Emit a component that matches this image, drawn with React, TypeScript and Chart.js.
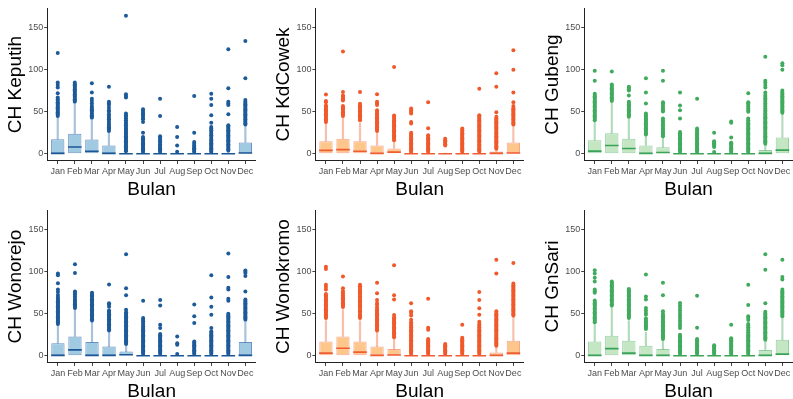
import React, { useEffect, useRef } from 'react';
import { Chart, registerables } from 'chart.js';

Chart.register(...registerables);

const MONTHS = ['Jan', 'Feb', 'Mar', 'Apr', 'May', 'Jun', 'Jul', 'Aug', 'Sep', 'Oct', 'Nov', 'Dec'];
const Y_TICKS = [0, 50, 100, 150];
const Y_MIN = -8.25;
const Y_MAX = 173.25;
const X_TITLE = 'Bulan';

// ---------- CH Keputih ----------
const KEPUTIH_Q1 = [0, 0, 0, 0, 0, 0, 0, 0, 0, 0, 0, 0];
const KEPUTIH_MED = [0.5, 8, 3, 0.5, 0, 0, 0, 0, 0, 0, 0, 1];
const KEPUTIH_Q3 = [17.4, 24, 17, 10, 1, 0.5, 0.3, 0, 0.3, 0.5, 1, 13.5];
const KEPUTIH_HI = [43, 59, 40, 25, 2.5, 1.2, 0.8, 0, 0.8, 1.2, 2.5, 33];
const KEPUTIH_OUT = [
  [45, 46.5, 48, 49.5, 51, 52.5, 54, 55.5, 57, 58.5, 60, 61.5, 63, 65, 67, 72, 79, 82, 85, 120],
  [62, 63.5, 65, 66.5, 68, 69.5, 71, 72.5, 74, 75.5, 77, 78.5, 80, 81.5, 83, 85],
  [43, 44.5, 46, 48, 50, 51.5, 53, 55, 57, 60, 63, 65.5, 73, 84],
  [27, 28.5, 30, 31.5, 33, 35, 37, 39, 41, 43, 45, 47, 50, 52, 55, 58, 60, 62, 80],
  [3, 4.5, 6, 7.5, 9, 10.5, 12, 13.5, 15, 16.5, 18, 19.5, 21, 22.5, 24, 25.5, 27, 28.5, 30, 32, 34, 36, 38, 40, 42, 44, 46, 48, 67, 69, 71, 164.5],
  [2, 3.5, 5, 6.5, 8, 9.5, 11, 12.5, 14, 15.5, 17, 18.5, 20, 25, 38, 41, 43, 45, 47, 49, 51, 53],
  [2, 3.5, 5, 6.5, 8, 9.5, 11, 13, 15, 17, 19, 21, 45, 65.5],
  [2.5, 10, 20, 32],
  [2, 3.5, 5, 6.5, 8, 10, 12, 14, 25, 69],
  [2, 3.5, 5, 6.5, 8, 9.5, 11, 12.5, 14, 16, 18, 20, 22, 24, 26, 28, 30, 32, 37, 46, 58, 65.5, 71.5],
  [4, 5.5, 7, 8.5, 10, 11.5, 13, 14.5, 16, 17.5, 19, 20.5, 22, 23.5, 25, 26.5, 28, 29.5, 31, 32.5, 34, 47, 58, 60, 62, 78, 124.5],
  [35, 36.5, 38, 39.5, 41, 42.5, 44, 45.5, 47, 48.5, 50, 51.5, 53, 54.5, 56, 57.5, 59, 60.5, 62, 64, 90, 134.5],
];

// ---------- CH KdCowek ----------
const KDCOWEK_Q1 = [0, 0, 0, 0, 0, 0, 0, 0, 0, 0, 0, 0];
const KDCOWEK_MED = [4, 5, 3, 0.5, 2, 0, 0, 0, 0, 0, 0.5, 1];
const KDCOWEK_Q3 = [15, 18, 15, 10, 6.4, 0.5, 0.5, 0.3, 0.5, 0.8, 2.8, 13.5];
const KDCOWEK_HI = [37, 43, 37, 25, 15, 1.2, 1.2, 0.8, 1.2, 2, 5, 33];
const KDCOWEK_OUT = [
  [38, 39.5, 41, 42.5, 44, 45.5, 47, 48.5, 50, 51.5, 53, 54.5, 56, 57.5, 61.5, 63, 70.5],
  [45, 46.5, 48, 49.5, 51, 52.5, 54, 55.5, 57, 63.5, 65, 66.5, 68, 69.5, 73.5, 122],
  [40, 41.5, 43, 44.5, 46, 47.5, 49, 50.5, 52, 53.5, 55, 56.5, 58, 59.5, 73.5],
  [27, 28.5, 30, 31.5, 33, 34.5, 36, 37.5, 39, 40.5, 42, 43.5, 45, 46.5, 48, 50, 52, 58, 60, 62, 71],
  [16, 17.5, 19, 20.5, 22, 23.5, 25, 26.5, 28, 29.5, 31, 32.5, 34, 35.5, 37, 38.5, 40, 42, 44, 45.5, 103.5],
  [2, 3.5, 5, 6.5, 8, 9.5, 11, 12.5, 14, 15.5, 17, 18.5, 20, 21.5, 23, 25, 36, 38, 48, 50, 52, 54],
  [2, 3.5, 5, 6.5, 8, 9.5, 11, 12.5, 14, 15.5, 17, 18.5, 20, 22, 30.5, 61.5],
  [10, 11.5, 13, 14.5, 16, 18],
  [2, 3.5, 5, 6.5, 8, 9.5, 11, 12.5, 14, 15.5, 17, 18.5, 20, 21.5, 23, 24.5, 26, 28, 30],
  [2.5, 4, 5.5, 7, 8.5, 10, 11.5, 13, 14.5, 16, 17.5, 19, 20.5, 22, 23.5, 25, 26.5, 28, 29.5, 31, 32.5, 34, 35.5, 37, 38.5, 40, 41.5, 43, 44.5, 46, 77.5],
  [6, 7.5, 9, 10.5, 12, 13.5, 15, 16.5, 18, 19.5, 21, 22.5, 24, 25.5, 27, 28.5, 30, 31.5, 33, 34.5, 36, 37.5, 39, 40.5, 42, 44, 49.5, 80, 96],
  [35, 36.5, 38, 39.5, 41, 42.5, 44, 45.5, 47, 48.5, 50, 51.5, 53, 54.5, 57, 61.5, 73, 100, 123.5],
];

// ---------- CH Gubeng ----------
const GUBENG_Q1 = [0, 0, 0, 0, 0, 0, 0, 0, 0, 0, 0, 0];
const GUBENG_MED = [3.2, 9.9, 6.3, 0.5, 1.5, 0, 0, 0, 0, 0, 0.5, 4.3];
const GUBENG_Q3 = [16.2, 24.5, 18, 10, 7.9, 0.5, 0.5, 0.3, 0.5, 0.5, 4.4, 19.5];
const GUBENG_HI = [38, 60, 42, 22, 19, 1.2, 1.2, 0.8, 1.2, 1.2, 10, 47];
const GUBENG_OUT = [
  [40, 41.5, 43, 44.5, 46, 47.5, 49, 50.5, 52, 53.5, 55, 56.5, 58, 59.5, 61, 62.5, 64, 65.5, 67, 68.5, 70, 71.5, 87, 99],
  [63, 64.5, 66, 67.5, 69, 70.5, 72, 73.5, 75, 76.5, 78, 79.5, 81, 82.5, 98],
  [44, 45.5, 47, 48.5, 50, 51.5, 53, 54.5, 56, 57.5, 59, 60.5, 62, 69.5, 75.5, 77, 78.5, 80],
  [23, 24.5, 26, 27.5, 29, 30.5, 32, 33.5, 35, 36.5, 38, 39.5, 41, 42.5, 44, 46, 48, 60, 73, 90],
  [21, 22.5, 24, 25.5, 27, 28.5, 30, 32, 34, 36, 38, 40, 42, 50.5, 52, 54, 56, 58, 60, 61.5, 87, 99],
  [2, 3.5, 5, 6.5, 8, 9.5, 11, 12.5, 14, 15.5, 17, 18.5, 20, 21.5, 23, 24.5, 26, 42, 52, 57.5, 73],
  [2, 3.5, 5, 6.5, 8, 9.5, 11, 12.5, 14, 15.5, 17, 18.5, 20, 21.5, 23, 24.5, 26, 28, 30, 65.5],
  [2, 8, 9.5, 11, 12.5, 14, 15, 25],
  [2, 3.5, 5, 6.5, 8, 9.5, 11, 12.5, 13, 19.5, 37, 38.5],
  [2, 3.5, 5, 6.5, 8, 9.5, 11, 12.5, 14, 15.5, 17, 18.5, 20, 21.5, 23, 24.5, 26, 27.5, 29, 30.5, 32, 33.5, 35, 36.5, 38, 40, 42, 50, 52, 54, 56, 58, 60, 61.5, 72],
  [12, 13.5, 15, 16.5, 18, 19.5, 21, 22.5, 24, 25.5, 27, 28.5, 30, 31.5, 33, 34.5, 36, 37.5, 39, 40.5, 42, 43.5, 45, 46.5, 48, 50, 52, 54, 56, 58, 60, 62, 64, 66, 68, 70, 73, 79, 82, 85, 87, 115.5],
  [49, 50.5, 52, 53.5, 55, 56.5, 58, 59.5, 61, 62.5, 64, 65.5, 67, 68.5, 70, 71.5, 73, 75.5, 100, 105.5, 108],
];

// ---------- CH Wonorejo ----------
const WONOREJO_Q1 = [0, 0, 0, 0, 0, 0, 0, 0, 0, 0, 0, 0];
const WONOREJO_MED = [0.5, 7, 0.5, 0.5, 1.2, 0, 0, 0, 0, 0, 0, 0.5];
const WONOREJO_Q3 = [15, 23, 16.3, 11, 5, 0.5, 0.5, 0.3, 0.5, 0.5, 0.8, 16.3];
const WONOREJO_HI = [36, 55, 40, 28, 12, 1.2, 1.2, 0.8, 1.2, 1.2, 2, 40];
const WONOREJO_OUT = [
  [38, 39.5, 41, 42.5, 44, 45.5, 47, 48.5, 50, 51.5, 53, 54.5, 56, 57.5, 59, 60.5, 62, 63.5, 65, 66.5, 68, 70, 72.5, 76, 79, 86.5, 96, 98],
  [57, 58.5, 60, 61.5, 63, 64.5, 66, 68, 70.5, 73, 75, 76.5, 98.5, 109],
  [42, 43.5, 45, 46.5, 48, 49.5, 51, 52.5, 54, 55.5, 57, 58.5, 60, 61.5, 63, 64.5, 66, 67.5, 69, 70.5, 72, 73.5, 75],
  [30, 31.5, 33, 34.5, 36, 37.5, 39, 40.5, 42, 43.5, 45, 46.5, 48, 49.5, 51, 52.5, 54, 58.5, 61, 62.5, 85],
  [14, 15.5, 17, 18.5, 20, 21.5, 23, 24.5, 26, 27.5, 29, 30.5, 32, 33.5, 35, 36.5, 38, 39.5, 41, 42.5, 44, 45.5, 47, 48.5, 50, 52, 55, 72, 80.5, 121],
  [2, 3.5, 5, 6.5, 8, 9.5, 11, 12.5, 14, 15.5, 17, 18.5, 20, 21.5, 23, 24.5, 26, 27.5, 29, 30.5, 32, 33.5, 35, 37, 39, 41, 43, 45, 65.5],
  [2, 3.5, 5, 6.5, 8, 9.5, 11, 12.5, 14, 15.5, 17, 18.5, 20, 21.5, 23, 24.5, 26, 33, 37, 60, 66.5],
  [2, 13, 15, 23],
  [2, 3.5, 5, 6.5, 8, 9.5, 11, 12.5, 14, 15.5, 17, 39, 47, 61],
  [2, 3.5, 5, 6.5, 8, 9.5, 11, 12.5, 14, 15.5, 17, 18.5, 20, 21.5, 23, 24.5, 26, 27.5, 29, 33, 49, 58.5, 69.5, 96],
  [2, 3.5, 5, 6.5, 8, 9.5, 11, 12.5, 14, 15.5, 17, 18.5, 20, 21.5, 23, 24.5, 26, 27.5, 29, 30.5, 32, 33.5, 35, 36.5, 38, 39.5, 41, 42.5, 44, 45.5, 47, 48.5, 50, 65.5, 68, 79, 81, 94, 122],
  [43, 44.5, 46, 47.5, 49, 50.5, 52, 53.5, 55, 56.5, 58, 59.5, 61, 62.5, 64, 65.5, 67, 76.5, 95, 98.5, 100, 101.5],
];

// ---------- CH Wonokromo ----------
const WONOKROMO_Q1 = [0, 0, 0, 0, 0, 0, 0, 0, 0, 0, 0, 0];
const WONOKROMO_MED = [3.2, 9, 4.4, 0.5, 1, 0, 0, 0, 0, 0, 0.5, 3.2];
const WONOKROMO_Q3 = [17, 23, 17, 11, 8, 0.5, 0.5, 0.3, 0.5, 0.5, 4, 18];
const WONOKROMO_HI = [42, 55, 42, 28, 20, 1.2, 1.2, 0.8, 1.2, 1.2, 10, 46];
const WONOKROMO_OUT = [
  [45, 46.5, 48, 49.5, 51, 52.5, 54, 55.5, 57, 58.5, 60, 61.5, 63, 64.5, 66, 67.5, 69, 70.5, 72, 73.5, 79, 82, 84.5, 103.5, 106],
  [58, 59.5, 61, 62.5, 64, 65.5, 67, 68.5, 70, 72, 74.5, 77, 80.5, 94.5],
  [45, 47, 49, 51, 53, 55, 57, 59, 61, 63, 65, 67, 69, 71, 73, 75, 77, 79, 81, 83, 84.5],
  [30, 31.5, 33, 34.5, 36, 37.5, 39, 40.5, 42, 43.5, 45, 46.5, 48, 49.5, 51, 52.5, 54, 56, 58, 61, 63, 66.5, 74.5, 87],
  [22, 23.5, 25, 26.5, 28, 29.5, 31, 32.5, 34, 35.5, 37, 38.5, 40, 41.5, 43, 44.5, 46, 48.5, 67, 72, 108],
  [2, 3.5, 5, 6.5, 8, 9.5, 11, 12.5, 14, 15.5, 17, 18.5, 20, 21.5, 23, 24.5, 26, 27.5, 29, 30.5, 32, 34, 36, 38, 40, 43, 48, 51, 53, 62.5],
  [2, 3.5, 5, 6.5, 8, 9.5, 11, 12.5, 14, 15.5, 17, 18.5, 20, 31, 33.5, 68],
  [2, 3.5, 5, 6.5, 8, 9.5, 11, 12.5, 14],
  [2, 3.5, 5, 6.5, 8, 9.5, 11, 12.5, 14, 15.5, 17, 18.5, 20, 21.5, 37],
  [2, 3.5, 5, 6.5, 8, 9.5, 11, 12.5, 14, 15.5, 17, 18.5, 20, 21.5, 23, 24.5, 26, 27.5, 29, 30.5, 32, 34, 36, 38, 40.5, 49, 56.5, 66.5, 76],
  [12, 13.5, 15, 16.5, 18, 19.5, 21, 22.5, 24, 25.5, 27, 28.5, 30, 31.5, 33, 34.5, 36, 37.5, 39, 40.5, 42, 43.5, 45, 46.5, 48, 49.5, 51, 53, 98, 114.5],
  [48, 49.5, 51, 52.5, 54, 55.5, 57, 58.5, 60, 61.5, 63, 64.5, 66, 67.5, 69, 70.5, 72, 73.5, 75, 76.5, 78, 79.5, 81, 82.5, 84, 86, 110.5],
];

// ---------- CH GnSari ----------
const GNSARI_Q1 = [0, 0, 0, 0, 0, 0, 0, 0, 0, 0, 0, 0];
const GNSARI_MED = [0.5, 8.5, 3.2, 0.5, 0.5, 0, 0, 0, 0, 0, 0.5, 2];
const GNSARI_Q3 = [17, 24, 18, 12, 8, 0.5, 0.5, 0.3, 0.5, 0.5, 7, 19];
const GNSARI_HI = [38, 58, 42, 28, 18, 1.2, 1.2, 0.8, 1.2, 1.2, 17, 45];
const GNSARI_OUT = [
  [40, 41.5, 43, 44.5, 46, 47.5, 49, 50.5, 52, 53.5, 55, 56.5, 58, 59.5, 61, 62.5, 64, 66, 75, 77, 79, 88.5, 93, 98, 102],
  [60, 61.5, 63, 64.5, 66, 67.5, 69, 70.5, 72, 73.5, 75, 76.5, 78, 79.5, 81, 82.5, 84, 85.5, 87, 88.5],
  [45, 46.5, 48, 49.5, 51, 52.5, 54, 55.5, 57, 58.5, 60, 61.5, 63, 64.5, 66, 67.5, 69, 70.5, 72, 73.5, 75, 76.5, 78, 79.5],
  [32, 33.5, 35, 36.5, 38, 39.5, 41, 42.5, 44.5, 49, 51, 54, 57, 67, 70.5, 97],
  [20, 21.5, 23, 24.5, 26, 27.5, 29, 30.5, 32, 33.5, 35, 36.5, 38, 39.5, 41, 42.5, 44, 45.5, 47, 48.5, 50, 53, 72, 87],
  [2, 3.5, 5, 6.5, 8, 9.5, 11, 12.5, 14, 15.5, 17, 18.5, 20, 21.5, 23, 25, 33, 36, 39, 42, 45, 48, 51, 54, 57, 60, 63],
  [2, 3.5, 5, 6.5, 8, 9.5, 11, 12.5, 14, 15.5, 17, 18.5, 20, 33.5, 71.5],
  [2, 3.5, 5, 6.5, 8, 9.5, 11, 12.5],
  [2, 3.5, 5, 6.5, 8, 9.5, 11, 12.5, 14, 15.5, 17, 18.5, 20, 21, 37],
  [2, 3.5, 5, 6.5, 8, 9.5, 11, 12.5, 14, 15.5, 17, 18.5, 20, 21.5, 23, 24.5, 26, 28, 30, 32, 34, 36, 38, 42.5, 45, 47, 60.5, 84.5],
  [19, 20.5, 22, 23.5, 25, 26.5, 28, 29.5, 31, 32.5, 34, 35.5, 37, 38.5, 40, 41.5, 43, 44.5, 46, 47.5, 49, 50.5, 52.5, 62.5, 102.5, 121],
  [47, 48.5, 50, 51.5, 53, 54.5, 56, 57.5, 59, 60.5, 62, 63.5, 65, 66.5, 68, 69.5, 71, 72.5, 74, 75.5, 77, 79, 91, 94, 114.5],
];

const FONT = "'Liberation Sans', Arial, Helvetica, sans-serif";

type Palette = { fill: string; border: string; whisker: string; median: string; point: string };

const BLUE: Palette = {
  fill: '#9fcae2',
  border: 'rgba(40,100,165,0.7)',
  whisker: 'rgba(40,100,165,0.4)',
  median: '#1b5796',
  point: '#1d5a99',
};
const ORANGE: Palette = {
  fill: '#fdc68b',
  border: 'rgba(240,95,50,0.55)',
  whisker: 'rgba(240,95,50,0.4)',
  median: '#ef5d33',
  point: '#f0592b',
};
const GREEN: Palette = {
  fill: '#c4e6c2',
  border: 'rgba(60,165,90,0.55)',
  whisker: 'rgba(60,165,90,0.4)',
  median: '#3aa357',
  point: '#41ab5d',
};

type PanelProps = {
  title: string;
  q1: number[];
  med: number[];
  q3: number[];
  hi: number[];
  out: number[][];
  pal: Palette;
  left: number;
  top: number;
  padLeft: number;
  padTop: number;
};

const CANVAS_W = 264;
const CANVAS_H = 200;

function Panel({ title, q1, med, q3, hi, out, pal, left, top, padLeft, padTop }: PanelProps) {
  const ref = useRef<HTMLCanvasElement | null>(null);

  useEffect(() => {
    if (!ref.current) return;
    const boxData = MONTHS.map((_, i) => ({ x: i, y: [q1[i], q3[i]] }));
    const whiskerData = MONTHS.map((_, i) => ({ x: i, y: [q3[i], hi[i]] }));
    const medData = MONTHS.map((_, i) => ({ x: i, y: med[i] }));
    const outData = out.flatMap((vals, i) => vals.map((v) => ({ x: i, y: v })));

    const chart = new Chart(ref.current, {
      type: 'bar',
      data: {
        datasets: [
          {
            type: 'scatter',
            data: medData,
            pointStyle: 'line',
            pointRadius: 6.8,
            pointBorderColor: pal.median,
            pointBorderWidth: 1.6,
            pointBackgroundColor: pal.median,
          } as any,
          {
            type: 'scatter',
            data: outData,
            pointStyle: 'circle',
            pointRadius: 2,
            pointBorderWidth: 0,
            pointBackgroundColor: pal.point,
          } as any,
          {
            type: 'bar',
            data: boxData,
            backgroundColor: pal.fill,
            borderColor: pal.border,
            borderWidth: 1,
            borderSkipped: false,
            grouped: false,
            barPercentage: 0.78,
            categoryPercentage: 1,
          } as any,
          {
            type: 'bar',
            data: whiskerData,
            backgroundColor: pal.whisker,
            borderWidth: 0,
            grouped: false,
            barThickness: 1.5,
          } as any,
        ],
      },
      options: {
        responsive: false,
        maintainAspectRatio: false,
        devicePixelRatio: 1,
        animation: false,
        events: [],
        layout: { padding: { left: padLeft, top: padTop, right: 3.5, bottom: 0 } },
        plugins: { legend: { display: false }, tooltip: { enabled: false } },
        scales: {
          x: {
            type: 'linear',
            min: -0.6,
            max: 11.6,
            offset: false,
            afterBuildTicks: (s: any) => {
              s.ticks = MONTHS.map((_, i) => ({ value: i }));
            },
            afterFit: (s: any) => {
              s.height = 39.3;
            },
            ticks: {
              autoSkip: false,
              maxRotation: 0,
              minRotation: 0,
              padding: 2,
              color: '#4d4d4d',
              font: { family: FONT, size: 9 },
              callback: (v: any) => MONTHS[Math.round(Number(v))],
            },
            grid: {
              display: true,
              drawOnChartArea: false,
              drawTicks: true,
              tickLength: 3.3,
              color: '#444',
              offset: false,
            },
            border: { display: true, color: '#222', width: 1 },
            title: {
              display: true,
              text: X_TITLE,
              color: '#000',
              font: { family: FONT, size: 19, lineHeight: 1 },
              padding: { top: 0, bottom: 0.5 },
            },
          },
          y: {
            type: 'linear',
            min: Y_MIN,
            max: Y_MAX,
            afterBuildTicks: (s: any) => {
              s.ticks = Y_TICKS.map((v) => ({ value: v }));
            },
            afterFit: (s: any) => {
              s.width = 47.5;
            },
            ticks: {
              padding: 1,
              color: '#4d4d4d',
              font: { family: FONT, size: 9 },
            },
            grid: {
              display: true,
              drawOnChartArea: false,
              drawTicks: true,
              tickLength: 3.3,
              color: '#444',
            },
            border: { display: true, color: '#222', width: 1 },
            title: {
              display: true,
              text: title,
              color: '#000',
              font: { family: FONT, size: 19, lineHeight: 1 },
              padding: { top: 6.5, bottom: 0 },
            },
          },
        },
      } as any,
    });
    return () => chart.destroy();
  }, [title, q1, med, q3, hi, out, pal, padLeft, padTop]);

  return (
    <div style={{ position: 'absolute', left, top, width: CANVAS_W, height: CANVAS_H }}>
      <canvas ref={ref} width={CANVAS_W} height={CANVAS_H} style={{ display: 'block', width: CANVAS_W, height: CANVAS_H }} />
    </div>
  );
}

export default function App() {
  return (
    <div
      style={{
        position: 'fixed',
        left: 0,
        top: 0,
        width: 793,
        height: 399,
        overflow: 'hidden',
        background: '#ffffff',
      }}
    >
      <Panel title="CH Keputih" q1={KEPUTIH_Q1} med={KEPUTIH_MED} q3={KEPUTIH_Q3} hi={KEPUTIH_HI} out={KEPUTIH_OUT} pal={BLUE} left={0} top={0} padLeft={0} padTop={7.4} />
      <Panel title="CH KdCowek" q1={KDCOWEK_Q1} med={KDCOWEK_MED} q3={KDCOWEK_Q3} hi={KDCOWEK_HI} out={KDCOWEK_OUT} pal={ORANGE} left={268} top={0} padLeft={0.2} padTop={7.4} />
      <Panel title="CH Gubeng" q1={GUBENG_Q1} med={GUBENG_MED} q3={GUBENG_Q3} hi={GUBENG_HI} out={GUBENG_OUT} pal={GREEN} left={537} top={0} padLeft={0} padTop={7.4} />
      <Panel title="CH Wonorejo" q1={WONOREJO_Q1} med={WONOREJO_MED} q3={WONOREJO_Q3} hi={WONOREJO_HI} out={WONOREJO_OUT} pal={BLUE} left={0} top={202} padLeft={0.2} padTop={8} />
      <Panel title="CH Wonokromo" q1={WONOKROMO_Q1} med={WONOKROMO_MED} q3={WONOKROMO_Q3} hi={WONOKROMO_HI} out={WONOKROMO_OUT} pal={ORANGE} left={268} top={202} padLeft={0.2} padTop={8} />
      <Panel title="CH GnSari" q1={GNSARI_Q1} med={GNSARI_MED} q3={GNSARI_Q3} hi={GNSARI_HI} out={GNSARI_OUT} pal={GREEN} left={537} top={202} padLeft={0} padTop={8} />
    </div>
  );
}
